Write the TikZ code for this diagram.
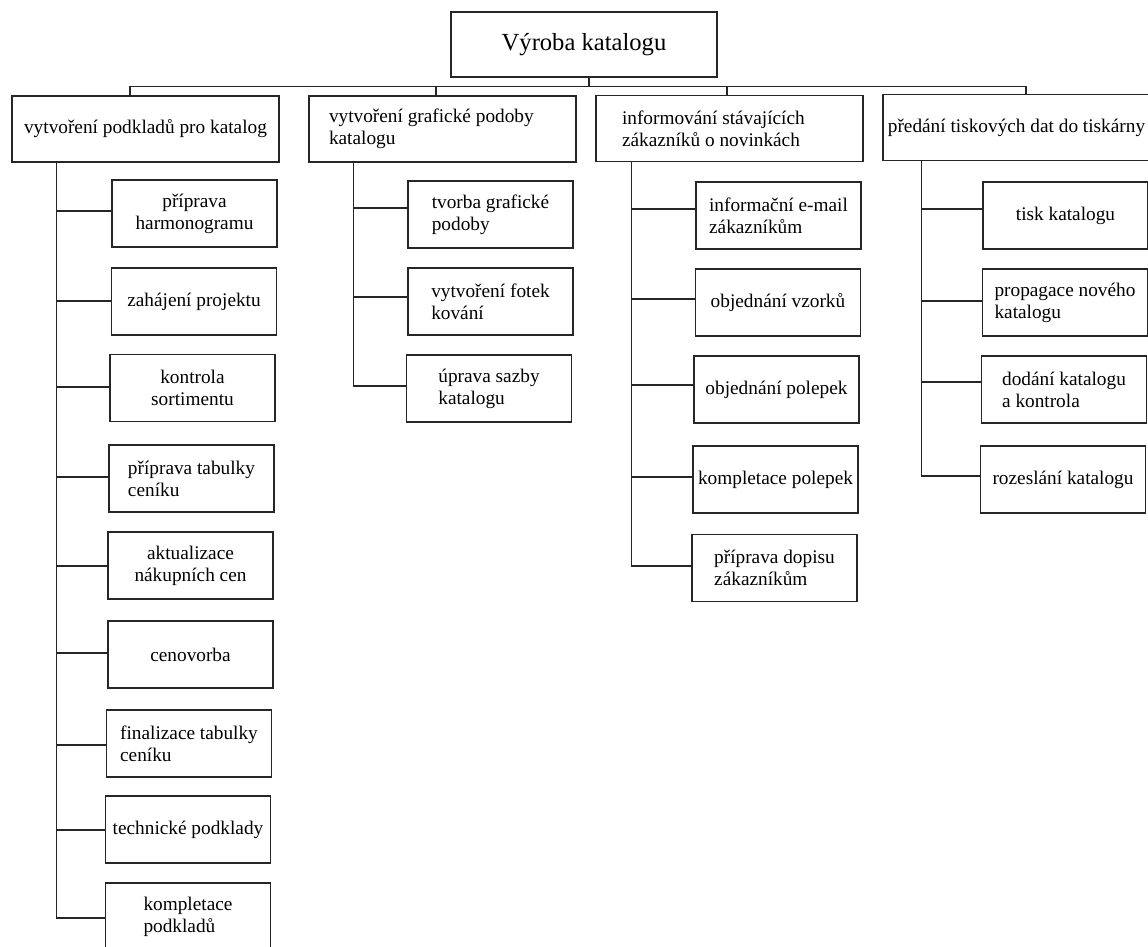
\documentclass[tikz,border=0pt]{standalone}
\usepackage{fontspec}
\setmainfont{Liberation Serif}
\begin{document}
\begin{tikzpicture}[x=1pt,y=-1pt,
  box/.style={draw=black!85, line width=1.1pt, rectangle, inner sep=0pt,
    minimum width=165pt, minimum height=67pt,
    font=\fontsize{19.3}{22}\selectfont},
  ctr/.style={box, align=center},
  lft/.style={box, align=left},
  phase/.style={draw=black!85, line width=1.1pt, rectangle, inner sep=0pt,
    minimum width=267pt, minimum height=66pt,
    font=\fontsize{19.3}{22}\selectfont},
  link/.style={draw=black!85, line width=1.1pt}]
\useasboundingbox (0,0) rectangle (1148,946);

% root
\node[draw=black!85, line width=1.1pt, inner sep=0pt, minimum width=266pt,
  minimum height=65pt, font=\fontsize{24.6}{28}\selectfont]
  (top) at (584,44.5) {Výroba katalogu};

% main phases (the two-line ones keep a fixed left inset)
\node[phase] (pa) at (145.5,129) {vytvoření podkladů pro katalog};
\node[phase, align=left] (pb) at (442.5,129)
  {\makebox[227pt][l]{vytvoření grafické podoby}\\katalogu};
\node[phase, align=left] (pc) at (729.5,128.5)
  {\makebox[215pt][l]{informování stávajících}\\zákazníků o novinkách};
\node[phase] (pd) at (1016.5,127.5) {předání tiskových dat do tiskárny};

% tasks: podklady
\node[ctr] (a1) at (194.5,213.5) {příprava\\harmonogramu};
\node[ctr] (a2) at (194,301.5) {zahájení projektu};
\node[ctr] (a3) at (192.5,388) {kontrola\\sortimentu};
\node[lft] (a4) at (191.5,478.5) {příprava tabulky\\ceníku};
\node[ctr] (a5) at (190.5,565.5) {aktualizace\\nákupních cen};
\node[ctr] (a6) at (190.5,654.5) {cenovorba};
\node[lft] (a7) at (189,743.5) {finalizace tabulky\\ceníku};
\node[ctr] (a8) at (188,829.5) {technické podklady};
\node[lft] (a9) at (188,916.5) {kompletace\\podkladů};

% tasks: grafická podoba
\node[lft] (b1) at (490.5,214.5) {tvorba grafické\\podoby};
\node[lft] (b2) at (490.5,301.5) {vytvoření fotek\\kování};
\node[lft] (b3) at (489,388.5) {úprava sazby\\katalogu};

% tasks: zákazníci
\node[lft] (c1) at (778.5,215.5) {informační e-mail\\zákazníkům};
\node[ctr] (c2) at (778,302.5) {objednání vzorků};
\node[ctr] (c3) at (776.5,389.5) {objednání polepek};
\node[ctr] (c4) at (775.5,479.5) {kompletace polepek};
\node[lft] (c5) at (774.5,568) {příprava dopisu\\zákazníkům};

% tasks: tisk
\node[ctr] (d1) at (1065.5,215.5) {tisk katalogu};
\node[lft] (d2) at (1065,302.5) {propagace nového\\katalogu};
\node[lft] (d3) at (1064,389.5) {dodání katalogu\\a kontrola};
\node[ctr] (d4) at (1063,479.5) {rozeslání katalogu};

% bus under the root
\coordinate (bus) at (0,86.5);
\draw[link] ([xshift=5pt]top.south) -- ([xshift=5pt]top.south |- bus);
\draw[link] ([xshift=-15.5pt]pa.north) -- ([xshift=-15.5pt]pa.north |- bus)
  -- ([xshift=9.5pt]pd.north |- bus) -- ([xshift=9.5pt]pd.north);
\draw[link] ([xshift=-6.5pt]pb.north) -- ([xshift=-6.5pt]pb.north |- bus);
\draw[link] ([xshift=-2.5pt]pc.north) -- ([xshift=-2.5pt]pc.north |- bus);

% trunks of the four columns
\coordinate (ta) at ([xshift=45pt]pa.south west);
\coordinate (tb) at ([xshift=45pt]pb.south west);
\coordinate (tc) at ([xshift=36pt]pc.south west);
\coordinate (td) at ([xshift=39pt]pd.south west);

\draw[link] (ta) |- ([yshift=-1.5pt]a9.west);
\foreach \n/\s in {a1/2.5, a2/0.5, a3/1, a4/1.5, a5/-0.5, a6/1.5, a7/-1.5, a8/-0.5}
  \draw[link] ([yshift=\s pt]\n.west) -- ([yshift=\s pt]\n.west -| ta);

\draw[link] (tb) |- ([yshift=2.5pt]b3.west);
\foreach \n/\s in {b1/6.5, b2/4.5}
  \draw[link] ([yshift=\s pt]\n.west) -- ([yshift=\s pt]\n.west -| tb);

\draw[link] (tc) |- ([yshift=2pt]c5.west);
\foreach \n/\s in {c1/6.5, c2/3.5, c3/4.5, c4/2.5}
  \draw[link] ([yshift=\s pt]\n.west) -- ([yshift=\s pt]\n.west -| tc);

\draw[link] (td) |- ([yshift=3.5pt]d4.west);
\foreach \n/\s in {d1/6.5, d2/1.5, d3/7.5}
  \draw[link] ([yshift=\s pt]\n.west) -- ([yshift=\s pt]\n.west -| td);
\end{tikzpicture}
\end{document}
